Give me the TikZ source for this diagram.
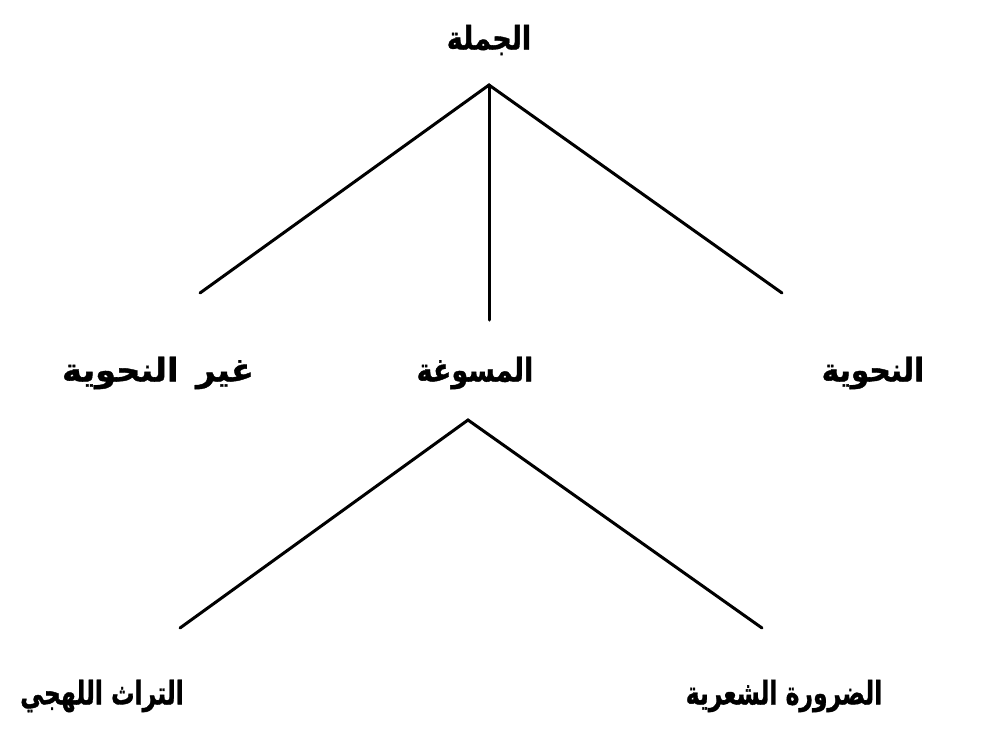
\documentclass[tikz,border=0pt]{standalone}
\usepackage{fontspec}
\TeXXeTstate=1
\newfontfamily\arabicfont[Script=Arabic,FakeBold=1.2]{DejaVu Sans Bold}
\tikzset{
  lbl/.style={font=\arabicfont\fontsize{27}{30}\selectfont, inner sep=0pt, anchor=center},
  edge/.style={line width=3pt, line cap=round, black}
}
\begin{document}
\begin{tikzpicture}[x=1pt,y=-1pt]
\useasboundingbox[fill=white] (0,0) rectangle (981,734);
% labels
\node[lbl] (root) at (489,40) {\scalebox{1}[1.2]{\beginR الجملة\endR}};
\node[lbl] (nahw) at (873,373) {\scalebox{1.1}[1.2]{\beginR النحوية\endR}};
\node[lbl] (musaw) at (475,373) {\scalebox{1}[1.2]{\beginR المسوغة\endR}};
\node[lbl] (ghayr) at (158,373) {\scalebox{1.25}[1.2]{\beginR غير\hspace{14pt}النحوية\endR}};
\node[lbl] (darura) at (784,696) {\scalebox{0.87}[1.2]{\beginR الضرورة الشعرية\endR}};
\node[lbl] (turath) at (102,696) {\scalebox{0.87}[1.2]{\beginR التراث اللهجي\endR}};
% connector points
\coordinate (a) at (489,85);
\coordinate (aL) at (200,293);
\coordinate (aM) at (489,320);
\coordinate (aR) at (782,293);
\coordinate (b) at (468,420);
\coordinate (bL) at (180,628);
\coordinate (bR) at (762,628);
\draw[edge] (aL) -- (a) -- (aR);
\draw[edge] (a) -- (aM);
\draw[edge] (bL) -- (b) -- (bR);
\end{tikzpicture}
\end{document}
